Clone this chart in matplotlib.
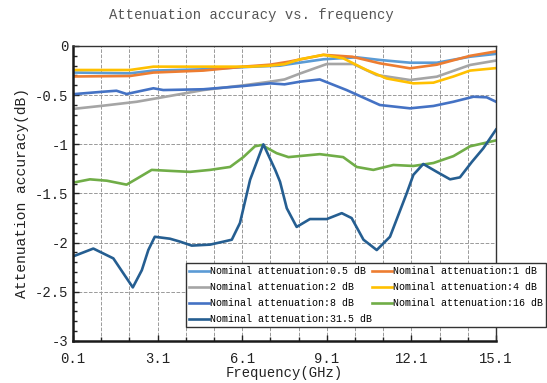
import matplotlib.pyplot as plt
from matplotlib.ticker import MultipleLocator, FixedLocator, FuncFormatter

plt.rcParams['font.family'] = ['Liberation Mono', 'DejaVu Sans Mono']

# measured attenuation accuracy (dB) for each nominal attenuation setting
f_05 = [0.1, 2.12, 2.95, 4.72, 6.49, 7.44, 7.74, 8.98, 10.16, 10.98, 12.05, 13.0, 14.18, 15.1]
v_05 = [-0.27, -0.278, -0.25, -0.237, -0.21, -0.2, -0.186, -0.135, -0.115, -0.142, -0.17, -0.17, -0.109, -0.08]

f_1 = [0.1, 2.12, 2.95, 4.72, 6.14, 7.09, 7.74, 8.98, 10.0, 10.98, 12.05, 13.0, 14.18, 15.1]
v_1 = [-0.31, -0.305, -0.27, -0.25, -0.21, -0.19, -0.16, -0.09, -0.109, -0.176, -0.227, -0.19, -0.10, -0.055]

f_2 = [0.1, 1.17, 2.36, 3.3, 4.72, 6.14, 7.09, 7.6, 8.15, 9.1, 10.04, 10.87, 12.05, 13.0, 14.18, 15.1]
v_2 = [-0.64, -0.607, -0.567, -0.52, -0.448, -0.40, -0.363, -0.34, -0.28, -0.183, -0.183, -0.295, -0.346, -0.312, -0.193, -0.148]

f_4 = [0.1, 2.12, 2.95, 4.72, 6.38, 7.09, 7.6, 8.15, 8.98, 9.68, 10.51, 11.22, 12.17, 12.88, 13.59, 14.18, 15.1]
v_4 = [-0.244, -0.244, -0.21, -0.21, -0.21, -0.2, -0.185, -0.135, -0.09, -0.125, -0.244, -0.33, -0.38, -0.373, -0.31, -0.25, -0.225]

f_8 = [0.1, 1.17, 1.64, 2.0, 2.95, 3.3, 4.72, 6.14, 7.09, 7.6, 8.15, 8.85, 9.8, 10.98, 12.05, 12.88, 13.59, 14.3, 14.77, 15.1]
v_8 = [-0.49, -0.465, -0.455, -0.488, -0.43, -0.448, -0.44, -0.407, -0.38, -0.39, -0.363, -0.34, -0.448, -0.60, -0.634, -0.61, -0.567, -0.516, -0.522, -0.567]

f_16 = [0.1, 0.7, 1.3, 2.0, 2.36, 2.89, 3.54, 4.25, 4.96, 5.67, 6.14, 6.55, 6.79, 7.32, 7.74, 8.85, 9.68, 10.16, 10.75, 11.46, 12.17, 12.88, 13.59, 14.18, 15.1]
v_16 = [-1.39, -1.356, -1.37, -1.41, -1.35, -1.26, -1.27, -1.28, -1.26, -1.23, -1.13, -1.02, -1.007, -1.09, -1.13, -1.10, -1.13, -1.23, -1.26, -1.21, -1.22, -1.19, -1.12, -1.02, -0.96]

f_315 = [0.1, 0.82, 1.53, 1.88, 2.22, 2.54, 2.77, 3.0, 3.54, 3.9, 4.31, 4.96, 5.43, 5.73, 6.02, 6.38, 6.85, 7.27, 7.44, 7.68, 8.03,
         8.5, 9.1, 9.63, 9.98, 10.4, 10.87, 11.34, 11.93, 12.17, 12.52, 13.0, 13.47, 13.82, 14.24, 14.65, 15.1]
v_315 = [-2.14, -2.06, -2.16, -2.31, -2.455, -2.28, -2.075, -1.94, -1.96, -1.99, -2.03, -2.02, -1.99, -1.97, -1.80, -1.36, -1.0, -1.26, -1.38, -1.65, -1.84,
         -1.76, -1.76, -1.70, -1.75, -1.97, -2.075, -1.94, -1.50, -1.31, -1.20, -1.28, -1.356, -1.336, -1.18, -1.04, -0.85]

fig = plt.figure(figsize=(5.47, 3.83), dpi=100)
ax = fig.add_axes([0.1335, 0.1097, 0.7733, 0.7702])

lw = 1.9
ax.plot(f_05, v_05, color='#5B9BD5', lw=lw, label='Nominal attenuation:0.5 dB')
ax.plot(f_1, v_1, color='#ED7D31', lw=lw, label='Nominal attenuation:1 dB')
ax.plot(f_2, v_2, color='#A5A5A5', lw=lw, label='Nominal attenuation:2 dB')
ax.plot(f_4, v_4, color='#FFC000', lw=lw, label='Nominal attenuation:4 dB')
ax.plot(f_8, v_8, color='#4472C4', lw=lw, label='Nominal attenuation:8 dB')
ax.plot(f_16, v_16, color='#70AD47', lw=lw, label='Nominal attenuation:16 dB')
ax.plot(f_315, v_315, color='#255E91', lw=lw, label='Nominal attenuation:31.5 dB')

ax.set_xlim(0.1, 15.1)
ax.set_ylim(-3, 0)
ax.xaxis.set_major_locator(FixedLocator([0.1, 3.1, 6.1, 9.1, 12.1, 15.1]))
ax.xaxis.set_minor_locator(FixedLocator([0.1 + i for i in range(16)]))
ax.yaxis.set_major_locator(MultipleLocator(0.5))
ax.yaxis.set_minor_locator(MultipleLocator(0.1))
ax.yaxis.set_major_formatter(FuncFormatter(lambda v, p: '%g' % v if v != 0 else '0'))

ax.grid(which='major', color='#9a9a9a', ls='--', lw=0.7)
ax.grid(which='minor', axis='x', color='#9a9a9a', ls='--', lw=0.7)
ax.tick_params(which='both', direction='in', top=False, right=False, labelsize=10, colors='#222222')
ax.tick_params(which='major', length=4, width=1)
ax.tick_params(which='minor', length=3, width=1)
ax.tick_params(axis='x', pad=8)

for s in ['left', 'bottom']:
    ax.spines[s].set_linewidth(1.8)
    ax.spines[s].set_color('#1a1a1a')
for s in ['top', 'right']:
    ax.spines[s].set_linewidth(1.0)
    ax.spines[s].set_color('#333333')

ax.set_xlabel('Frequency(GHz)', fontsize=10, color='#222222', labelpad=0)
ax.set_ylabel('Attenuation accuracy(dB)', fontsize=10.5, color='#222222', labelpad=4)
fig.text(0.46, 0.962, 'Attenuation accuracy vs. frequency', ha='center', va='center',
         fontsize=10, color='#555555')

# legend order: column 1 then column 2
h, l = ax.get_legend_handles_labels()
order = [0, 2, 4, 6, 1, 3, 5]
leg = ax.legend([h[i] for i in order], [l[i] for i in order], ncol=2,
                loc='lower left', bbox_to_anchor=(0.255, 0.03), fontsize=7.2,
                handlelength=2.0, handletextpad=0.1, columnspacing=0.0,
                labelspacing=0.6, borderpad=0.3, fancybox=False, framealpha=1,
                edgecolor='#333333')
leg.get_frame().set_linewidth(1.0)

fig.savefig('out.png', dpi=100)
